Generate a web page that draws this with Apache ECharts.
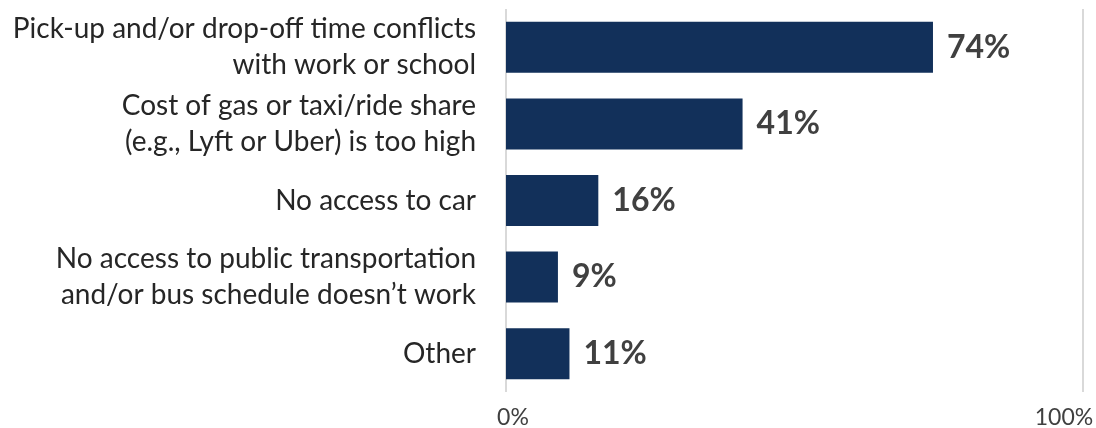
<!DOCTYPE html>
<html><head><meta charset="utf-8">
<script src="https://cdn.jsdelivr.net/npm/echarts@6/dist/echarts.min.js"></script>
<style>html,body{margin:0;padding:0;background:#fff}#c{width:1096px;height:428px}</style>
</head><body><div id="c"></div>
<script>
const categories = [
  "Pick-up and/or drop-off time conflicts\nwith work or school",
  "Cost of gas or taxi/ride share\n(e.g., Lyft or Uber) is too high",
  "No access to car",
  "No access to public transportation\nand/or bus schedule doesn\u2019t work",
  "Other"
];
const values = [74, 41, 16, 9, 11];
const xTicks = [0, 100];

const chart = echarts.init(document.getElementById('c'));
const tickStyle = { color: '#404040', fontSize: 23, fontFamily: 'Lato' };
chart.setOption({
  animation: false,
  grid: { left: 506, right: 13, top: 9, bottom: 36, containLabel: false, outerBoundsMode: 'none' },
  xAxis: {
    type: 'value', min: 0, max: 100, interval: 100,
    axisLine: { show: false }, axisTick: { show: false },
    splitLine: { show: true, lineStyle: { color: '#d9d9d9', width: 2 } },
    axisLabel: {
      formatter: v => v === xTicks[0] ? '{a|' + v + '%}' : (v === xTicks[1] ? '{b|' + v + '%}' : ''),
      margin: 14,
      rich: {
        a: Object.assign({ padding: [0, 0, 0, 14] }, tickStyle),
        b: Object.assign({ padding: [0, 38, 0, 0] }, tickStyle)
      }
    }
  },
  yAxis: {
    type: 'category', inverse: true, data: categories,
    axisLine: { show: false }, axisTick: { show: false },
    axisLabel: { color: '#262626', fontSize: 28, fontFamily: 'Lato', lineHeight: 36, margin: 30, align: 'right' }
  },
  series: [{
    type: 'bar', data: values, barWidth: '66.6%',
    itemStyle: { color: '#12305a' },
    label: { show: true, position: 'right', distance: 14, formatter: '{c}%', color: '#404040', fontSize: 32, fontWeight: 'bold', fontFamily: 'Lato' }
  }]
});
</script></body></html>
